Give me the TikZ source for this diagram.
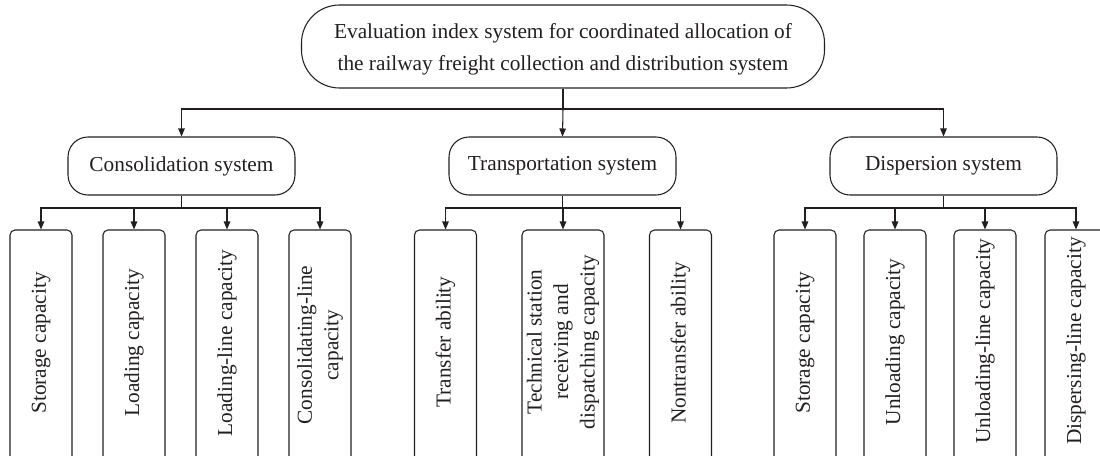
\documentclass[tikz,border=0pt]{standalone}
\usepackage{fontspec}
\setmainfont{Liberation Serif}
\usetikzlibrary{arrows.meta}
\definecolor{ink}{HTML}{231F20}
\begin{document}
\begin{tikzpicture}[x=1pt,y=-1pt,
  line width=1.05pt, draw=ink,
  txt/.style={font=\fontsize{21.3}{26.5}\selectfont, text=ink, align=center, inner sep=0pt},
  topbox/.style={draw, rounded corners=38pt, minimum width=523pt, minimum height=83pt, inner sep=0pt},
  subbox/.style={draw, rounded corners=20pt, minimum width=227pt, minimum height=58pt, inner sep=0pt},
  leafbox/.style={draw, rounded corners=5pt, minimum width=62pt, minimum height=240pt, inner sep=0pt},
  leafwide/.style={leafbox, minimum width=82pt},
  arr/.style={-{Triangle[length=8pt,width=6.5pt]}},
  lbl/.style={txt, rotate=90}]
\useasboundingbox (0,0) rectangle (1100,455);
\clip (0,0) rectangle (1100,455);
\fill[white] (0,0) rectangle (1100,455);
% top
\node[topbox] (top) at (563,46.5) {};
\node[txt] at (563,49) {Evaluation index system for coordinated allocation of\\[5.5pt]the railway freight collection and distribution system};
% subsystems
\node[subbox, txt] (cons) at (181.5,166) {Consolidation system};
\node[subbox, txt] (trans) at (562.5,166) {Transportation system};
\node[subbox, txt] (disp) at (943.5,166) {Dispersion system};
% leaves
\node[leafbox] (c1) at (41,350) {};
\node[leafbox] (c2) at (134,350) {};
\node[leafbox] (c3) at (227,350) {};
\node[leafbox] (c4) at (320,350) {};
\node[leafbox] (t1) at (445.5,350) {};
\node[leafwide] (t2) at (563,350) {};
\node[leafbox] (t3) at (680.5,350) {};
\node[leafbox] (d1) at (805,350) {};
\node[leafbox] (d2) at (895,350) {};
\node[leafbox] (d3) at (985,350) {};
\node[leafbox] (d4) at (1076,350) {};
\node[lbl] at (41,343) {Storage capacity};
\node[lbl] at (134,343) {Loading capacity};
\node[lbl] at (227,343) {Loading-line capacity};
\node[lbl] at (320,345) {Consolidating-line\\capacity};
\node[lbl] at (445.5,342) {Transfer ability};
\node[lbl] at (563,342) {Technical station\\receiving and\\dispatching capacity};
\node[lbl] at (680.5,343) {Nontransfer ability};
\node[lbl] at (805,343) {Storage capacity};
\node[lbl] at (895,342) {Unloading capacity};
\node[lbl] at (985,341) {Unloading-line capacity};
\node[lbl] at (1076,341) {Dispersing-line capacity};
% connectors
\coordinate (b0) at (563,109);
\draw (top.south) -- (b0);
\draw[arr] (b0) -| (cons.north);
\draw[arr] (b0) -- (trans.north);
\draw[arr] (b0) -| (disp.north);
\coordinate (bc) at (181.5,208);
\draw (cons.south) -- (bc);
\foreach \n in {c1,c2,c3,c4} \draw[arr] (bc) -| (\n.north);
\coordinate (bt) at (562.5,208);
\draw (trans.south) -- (bt);
\foreach \n in {t1,t2,t3} \draw[arr] (bt) -| (\n.north);
\coordinate (bd) at (943.5,208);
\draw (disp.south) -- (bd);
\foreach \n in {d1,d2,d3,d4} \draw[arr] (bd) -| (\n.north);
\end{tikzpicture}
\end{document}
